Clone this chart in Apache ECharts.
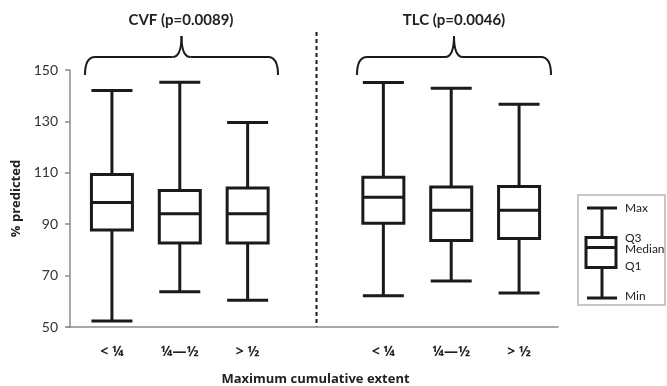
<!DOCTYPE html>
<html>
<head>
<meta charset="utf-8">
<script src="https://cdn.jsdelivr.net/npm/echarts@6/dist/echarts.min.js"></script>
<style>
  html, body { margin: 0; padding: 0; background: #fff; }
  #main { width: 667px; height: 386px; }
</style>
</head>
<body>
<div id="main"></div>
<script>
    // categories, the empty slot in the middle separates CVF and TLC
    var categories = ['< ¼', '¼—½', '> ½', '', '< ¼', '¼—½', '> ½'];
    var groupTitles = ['CVF (p=0.0089)', 'TLC (p=0.0046)'];

    // % predicted
    var mins    = [52.3, 63.7, 60.4, null, 62.2, 67.9, 63.2];
    var q1s     = [87.7, 82.7, 82.7, null, 90.4, 83.7, 84.4];
    var medians = [98.4, 94.1, 94.1, null, 100.5, 95.4, 95.4];
    var q3s     = [109.3, 103.1, 104.1, null, 108.3, 104.5, 104.7];
    var maxs    = [142.0, 145.2, 129.6, null, 145.1, 142.9, 136.7];

    var yTicks = [50, 70, 90, 110, 130, 150];

    var font = 'Lato, "Open Sans", sans-serif';
    var labelFont = '"Open Sans", sans-serif';
    var ink = '#1a1a1a';

    var boxData = categories.map(function (c, i) {
        if (mins[i] == null) return '-';
        return [mins[i], q1s[i], medians[i], q3s[i], maxs[i]];
    });

    // curly brace made of curves and lines
    function brace(x0, x1) {
        var yEnd = 75, yTop = 57, yCusp = 36, c = (x0 + x1) / 2;
        var st = { stroke: ink, lineWidth: 2, fill: null };
        return [
            { type: 'bezierCurve', shape: { x1: x0, y1: yEnd, x2: x0 + 10, y2: yTop, cpx1: x0, cpy1: yTop }, style: st },
            { type: 'line', shape: { x1: x0 + 10, y1: yTop, x2: c - 9, y2: yTop }, style: st },
            { type: 'bezierCurve', shape: { x1: c - 9, y1: yTop, x2: c, y2: yCusp, cpx1: c, cpy1: yTop }, style: st },
            { type: 'bezierCurve', shape: { x1: c, y1: yCusp, x2: c + 9, y2: yTop, cpx1: c, cpy1: yTop }, style: st },
            { type: 'line', shape: { x1: c + 9, y1: yTop, x2: x1 - 10, y2: yTop }, style: st },
            { type: 'bezierCurve', shape: { x1: x1 - 10, y1: yTop, x2: x1, y2: yEnd, cpx1: x1, cpy1: yTop }, style: st }
        ];
    }

    var legendText = { fontFamily: font, fontSize: 12, fill: '#222' };

    var myChart = echarts.init(document.getElementById('main'));
    var option = {
        backgroundColor: '#fff',
        animation: false,
        grid: [
            { left: 78, right: 114, top: 70, bottom: 59, outerBoundsMode: 'none' },
            // only carries the long x axis line
            { left: 67, right: 109, top: 70, bottom: 59, outerBoundsMode: 'none' }
        ],
        xAxis: [{
            type: 'category',
            gridIndex: 0,
            data: categories,
            axisLine: { show: false },
            axisTick: { show: false },
            axisLabel: {
                margin: 18,
                fontFamily: labelFont,
                fontSize: 14,
                fontWeight: 'bold',
                color: '#222'
            },
            name: 'Maximum cumulative extent',
            nameLocation: 'middle',
            nameGap: 46,
            nameTextStyle: {
                fontFamily: labelFont,
                fontSize: 13,
                fontWeight: 'bold',
                color: '#222'
            }
        }, {
            type: 'value',
            gridIndex: 1,
            min: 0,
            max: 1,
            axisLine: { show: true, lineStyle: { color: '#8c8c8c', width: 1.5 } },
            axisTick: { show: false },
            axisLabel: { show: false },
            splitLine: { show: false }
        }],
        yAxis: [{
            type: 'value',
            gridIndex: 0,
            min: yTicks[0],
            max: yTicks[yTicks.length - 1],
            interval: 20,
            offset: 8,
            axisLine: { show: true, lineStyle: { color: '#8c8c8c', width: 1.5 } },
            axisTick: { show: true, inside: false, length: 5, lineStyle: { color: '#8c8c8c', width: 1.5 } },
            splitLine: { show: false },
            axisLabel: {
                margin: 12,
                fontFamily: font,
                fontSize: 14,
                color: '#333'
            },
            name: '% predicted',
            nameLocation: 'middle',
            nameGap: 45,
            nameTextStyle: {
                fontFamily: labelFont,
                fontSize: 13,
                fontWeight: 'bold',
                color: '#222'
            }
        }, {
            type: 'value',
            gridIndex: 1,
            show: false,
            min: 0,
            max: 1
        }],
        series: [{
            name: '% predicted',
            type: 'boxplot',
            xAxisIndex: 0,
            yAxisIndex: 0,
            boxWidth: [41, 41],
            data: boxData,
            itemStyle: {
                color: '#fff',
                borderColor: ink,
                borderWidth: 3
            }
        }],
        graphic: brace(85, 278).concat(brace(357, 551), [
            { type: 'text', x: 181, y: 20, style: { text: groupTitles[0], fontFamily: font, fontSize: 15, fontWeight: 'bold', fill: '#222', align: 'center', verticalAlign: 'middle' } },
            { type: 'text', x: 454, y: 20, style: { text: groupTitles[1], fontFamily: font, fontSize: 15, fontWeight: 'bold', fill: '#222', align: 'center', verticalAlign: 'middle' } },
            // dashed divider
            { type: 'line', shape: { x1: 316.5, y1: 32, x2: 316.5, y2: 327 }, style: { stroke: ink, lineWidth: 2, lineDash: [4, 3] } },
            // legend
            { type: 'rect', shape: { x: 578, y: 195, width: 87, height: 110 }, style: { fill: '#fff', stroke: '#c8c8c8', lineWidth: 2 } },
            { type: 'line', shape: { x1: 602, y1: 208, x2: 602, y2: 298 }, style: { stroke: ink, lineWidth: 3 } },
            { type: 'line', shape: { x1: 587, y1: 208, x2: 617, y2: 208 }, style: { stroke: ink, lineWidth: 3 } },
            { type: 'line', shape: { x1: 587, y1: 298, x2: 617, y2: 298 }, style: { stroke: ink, lineWidth: 3 } },
            { type: 'rect', shape: { x: 586, y: 237.5, width: 30, height: 30 }, style: { fill: '#fff', stroke: ink, lineWidth: 3 } },
            { type: 'line', shape: { x1: 586, y1: 247.5, x2: 616, y2: 247.5 }, style: { stroke: ink, lineWidth: 3 } },
            { type: 'text', x: 625, y: 208, style: Object.assign({ text: 'Max', verticalAlign: 'middle' }, legendText) },
            { type: 'text', x: 625, y: 238, style: Object.assign({ text: 'Q3', verticalAlign: 'middle' }, legendText) },
            { type: 'text', x: 625, y: 249, style: Object.assign({ text: 'Median', verticalAlign: 'middle' }, legendText) },
            { type: 'text', x: 625, y: 266, style: Object.assign({ text: 'Q1', verticalAlign: 'middle' }, legendText) },
            { type: 'text', x: 625, y: 296, style: Object.assign({ text: 'Min', verticalAlign: 'middle' }, legendText) }
        ])
    };
    myChart.setOption(option);
</script>
</body>
</html>
